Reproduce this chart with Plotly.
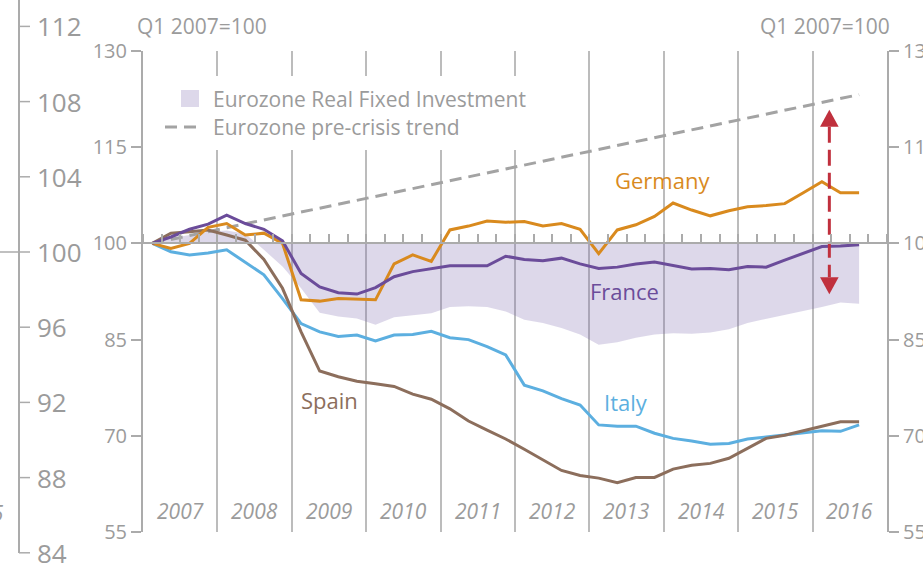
import plotly.graph_objects as go

# ---------------- data ----------------
YEARS = ["2007", "2008", "2009", "2010", "2011", "2012", "2013", "2014", "2015", "2016"]
QUARTERS = [f"{y}Q{q}" for y in YEARS for q in (1, 2, 3, 4)][:39]   # Q1 2007 .. Q3 2016

germany = [100.0, 99.2, 100.0, 102.5, 103.1, 101.3, 101.6, 100.0, 91.2, 91.0, 91.4, 91.3, 91.2,
           96.8, 98.2, 97.2, 102.1, 102.7, 103.5, 103.3, 103.4, 102.7, 103.1, 102.2, 98.4, 102.1,
           102.9, 104.2, 106.3, 105.2, 104.3, 105.1, 105.7, 105.9, 106.2, 107.9, 109.6, 107.9, 107.9]
france = [100.0, 101.0, 102.2, 103.0, 104.4, 103.1, 102.2, 100.4, 95.3, 93.2, 92.3, 92.1, 93.1,
          94.8, 95.6, 96.1, 96.5, 96.5, 96.5, 98.0, 97.5, 97.3, 97.7, 96.8, 96.1, 96.3, 96.8,
          97.1, 96.5, 96.0, 96.1, 95.9, 96.4, 96.3, 97.4, 98.4, 99.5, 99.6, 99.8]
italy = [100.0, 98.7, 98.2, 98.5, 99.0, 97.1, 95.1, 91.4, 87.5, 86.2, 85.5, 85.7, 84.8, 85.7,
         85.8, 86.3, 85.3, 85.0, 83.9, 82.6, 77.9, 77.0, 75.8, 74.8, 71.7, 71.5, 71.5, 70.4,
         69.6, 69.2, 68.7, 68.8, 69.5, 69.8, 70.1, 70.5, 70.8, 70.7, 71.7]
spain = [100.0, 101.6, 101.8, 102.1, 101.3, 100.5, 97.5, 93.0, 86.2, 80.1, 79.2, 78.5, 78.1,
         77.7, 76.5, 75.7, 74.2, 72.3, 70.9, 69.5, 67.9, 66.3, 64.6, 63.8, 63.4, 62.7, 63.5,
         63.5, 64.8, 65.4, 65.7, 66.5, 68.1, 69.6, 70.1, 70.8, 71.4, 72.2, 72.2]
eurozone = [100.0, 100.8, 101.3, 101.8, 102.0, 101.5, 99.0, 96.4, 93.0, 89.2, 88.6, 88.3, 87.3,
            88.5, 88.8, 89.1, 90.1, 90.2, 90.1, 89.4, 88.1, 87.6, 86.8, 85.8, 84.2, 84.6, 85.3,
            85.8, 86.0, 85.9, 86.1, 86.6, 87.6, 88.2, 88.8, 89.4, 90.1, 90.8, 90.6]
trend_x = [0, 38]
trend = [100.0, 123.2]

BASE = 100
Y_TICKS = [55, 70, 85, 100, 115, 130]
GHOST_TICKS = [84, 88, 92, 96, 100, 104, 108, 112]
ARROW_X = 36.4

# ---------------- styling ----------------
W, H = 923, 566
FONT = "Open Sans"
GREY_TXT = "#9b9b9b"
GREY_LN = "#ababab"
C_DE, C_FR, C_IT, C_ES = "#d98a1e", "#6b4c9a", "#5cafe0", "#8c6e5c"
C_FILL = "rgba(120,100,172,0.25)"
C_TREND = "#a3a3a3"
C_RED = "#c0303d"

x = list(range(len(germany)))
n_q = len(YEARS) * 4

# pixel layout
PL, PR, PT, PB = 143, 887, 51, 532


def px_x(p):
    return p / W


def px_y(p):
    return 1 - p / H


fig = go.Figure()

# Eurozone fill between 100 and the series
fig.add_trace(go.Scatter(x=x, y=[BASE] * len(x), mode="lines", line=dict(width=0),
                         hoverinfo="skip", showlegend=False))
fig.add_trace(go.Scatter(x=x, y=eurozone, mode="lines", line=dict(width=0), fill="tonexty",
                         fillcolor=C_FILL, name="Eurozone Real Fixed Investment", showlegend=False))
# pre-crisis trend
fig.add_trace(go.Scatter(x=trend_x, y=trend, mode="lines",
                         line=dict(color=C_TREND, width=3, dash="12px,7px"),
                         name="Eurozone pre-crisis trend", showlegend=False))
# countries
for name, ys, col in [("Italy", italy, C_IT), ("Spain", spain, C_ES),
                      ("Germany", germany, C_DE), ("France", france, C_FR)]:
    fig.add_trace(go.Scatter(x=x, y=ys, mode="lines", line=dict(color=col, width=3),
                             name=name, showlegend=False))

# red double arrow between trend and Eurozone investment
x0i = int(ARROW_X)
fr = ARROW_X - x0i
tr_at = trend[0] + (trend[1] - trend[0]) * (ARROW_X - trend_x[0]) / (trend_x[1] - trend_x[0])
ez_at = eurozone[x0i] + (eurozone[x0i + 1] - eurozone[x0i]) * fr
top_tip = tr_at - 1.4
bot_tip = ez_at + 1.7
HEAD_H = 2.65
HEAD_W = 0.5
fig.add_trace(go.Scatter(x=[ARROW_X, ARROW_X], y=[top_tip - HEAD_H, bot_tip + HEAD_H], mode="lines",
                         line=dict(color=C_RED, width=3, dash="16px,7px"), showlegend=False,
                         hoverinfo="skip"))
for tip, base in [(top_tip, top_tip - HEAD_H), (bot_tip, bot_tip + HEAD_H)]:
    fig.add_trace(go.Scatter(x=[ARROW_X - HEAD_W, ARROW_X + HEAD_W, ARROW_X, ARROW_X - HEAD_W],
                             y=[base, base, tip, base], mode="lines", fill="toself",
                             fillcolor=C_RED, line=dict(width=0, color=C_RED),
                             showlegend=False, hoverinfo="skip"))

# helper traces so that secondary axes get drawn
fig.add_trace(go.Scatter(x=[None], y=[None], xaxis="x2", yaxis="y", showlegend=False))
fig.add_trace(go.Scatter(x=[None], y=[None], xaxis="x", yaxis="y2", showlegend=False))

y_dom = [1 - PB / H, 1 - PT / H]
x_dom = [PL / W, PR / W]
y_rng = [55, 130]
pos100 = y_dom[0] + (BASE - y_rng[0]) / (y_rng[1] - y_rng[0]) * (y_dom[1] - y_dom[0])

year_bounds = [-0.5 + 4 * k for k in range(1, len(YEARS))]

tickfont = dict(family=FONT, size=20, color=GREY_TXT)
fig.update_layout(
    width=W, height=H,
    margin=dict(l=0, r=0, t=0, b=0, autoexpand=False),
    paper_bgcolor="white", plot_bgcolor="white",
    showlegend=False,
    xaxis=dict(domain=x_dom, range=[-0.5, n_q - 0.5], tickvals=year_bounds, showgrid=True,
               gridcolor="#bcbcbc", gridwidth=2, showticklabels=False, ticks="",
               zeroline=False, showline=False, anchor="y", automargin=False),
    xaxis2=dict(overlaying="x", matches="x", anchor="free", position=pos100, side="top",
                ticks="outside", ticklen=8, tickwidth=1.5, tickcolor=GREY_LN,
                tick0=-0.5, dtick=1, showline=True, linecolor=GREY_LN, linewidth=2,
                showticklabels=False, showgrid=False, zeroline=False, automargin=False),
    yaxis=dict(domain=y_dom, range=y_rng, tickvals=Y_TICKS, ticks="outside", ticklen=10,
               tickwidth=1.5, tickcolor=GREY_LN, showline=True, linecolor=GREY_LN, linewidth=2,
               showgrid=False, zeroline=False, tickfont=tickfont, anchor="x", automargin=False),
    yaxis2=dict(overlaying="y", matches="y", side="right", anchor="x", tickvals=Y_TICKS,
                ticks="outside", ticklen=10, tickwidth=1.5, tickcolor=GREY_LN, showline=True,
                linecolor=GREY_LN, linewidth=2, showgrid=False, zeroline=False, tickfont=tickfont,
                automargin=False),
)

# ---------- ghost axis of the neighbouring chart (cropped at the left) ----------
G_X = 19
G_TICK_LEN = 11
G_BOTTOM_PX = 553
G_PX_PER_UNIT = 18.8
G_100_PX = 252


def ghost_px(v):
    return G_100_PX - (v - BASE) * G_PX_PER_UNIT


fig.add_shape(type="line", xref="paper", yref="paper", x0=px_x(G_X), x1=px_x(G_X),
              y0=px_y(0), y1=px_y(G_BOTTOM_PX), line=dict(color=GREY_LN, width=2))
ann = []


def note(text, xp, yp, size, color=GREY_TXT, xanchor="center"):
    ann.append(dict(x=px_x(xp), y=px_y(yp), xref="paper", yref="paper", text=text,
                    xanchor=xanchor, yanchor="middle", showarrow=False,
                    font=dict(family=FONT, size=size, color=color)))


for v in GHOST_TICKS:
    yy = ghost_px(v)
    fig.add_shape(type="line", xref="paper", yref="paper", x0=px_x(G_X), x1=px_x(G_X + G_TICK_LEN),
                  y0=px_y(yy), y1=px_y(yy), line=dict(color=GREY_LN, width=1.5))
    note(str(v), G_X + G_TICK_LEN + 5, yy, 26, xanchor="left")
fig.add_shape(type="line", xref="paper", yref="paper", x0=0, x1=px_x(G_X),
              y0=px_y(ghost_px(BASE)), y1=px_y(ghost_px(BASE)), line=dict(color=GREY_LN, width=1.5))

# year labels
for k, yr in enumerate(YEARS):
    ann.append(dict(x=1.5 + 4 * k, y=58.3, xref="x", yref="y", text=f"<i>{yr}</i>",
                    yanchor="middle", showarrow=False,
                    font=dict(family=FONT, size=21, color=GREY_TXT)))
# ghost year label fragment on the far left
note("<i>2015</i>", 6, 513, 21, xanchor="right")
# unit notes
note("Q1 2007=100", 202, 26, 21)
note("Q1 2007=100", 825, 26, 21)
# series labels
for txt, xx, yy, col in [("Germany", 27.45, 109.9, C_DE), ("France", 25.4, 92.6, C_FR),
                         ("Spain", 9.5, 75.6, C_ES), ("Italy", 25.45, 75.3, C_IT)]:
    ann.append(dict(x=xx, y=yy, xref="x", yref="y", text=txt, showarrow=False,
                    yanchor="middle", font=dict(family=FONT, size=22, color=col)))

# manual legend
fig.add_shape(type="rect", xref="paper", yref="paper", x0=px_x(150), x1=px_x(560),
              y0=px_y(150), y1=px_y(76), fillcolor="white", line=dict(width=0), layer="above")
fig.add_shape(type="rect", xref="paper", yref="paper", x0=px_x(181), x1=px_x(199),
              y0=px_y(107), y1=px_y(90), fillcolor="#ddd8ea", line=dict(width=0), layer="above")
fig.add_shape(type="line", xref="paper", yref="paper", x0=px_x(165), x1=px_x(199),
              y0=px_y(127), y1=px_y(127), line=dict(color=C_TREND, width=3, dash="12px,7px"),
              layer="above")
note("Eurozone Real Fixed Investment", 211, 99, 21, xanchor="left")
note("Eurozone pre-crisis trend", 211, 127, 21, xanchor="left")

fig.update_layout(annotations=ann)
fig.write_html("out.html", config={"displayModeBar": False},
               post_script="document.body.style.margin='0';document.body.style.overflow='hidden';")
